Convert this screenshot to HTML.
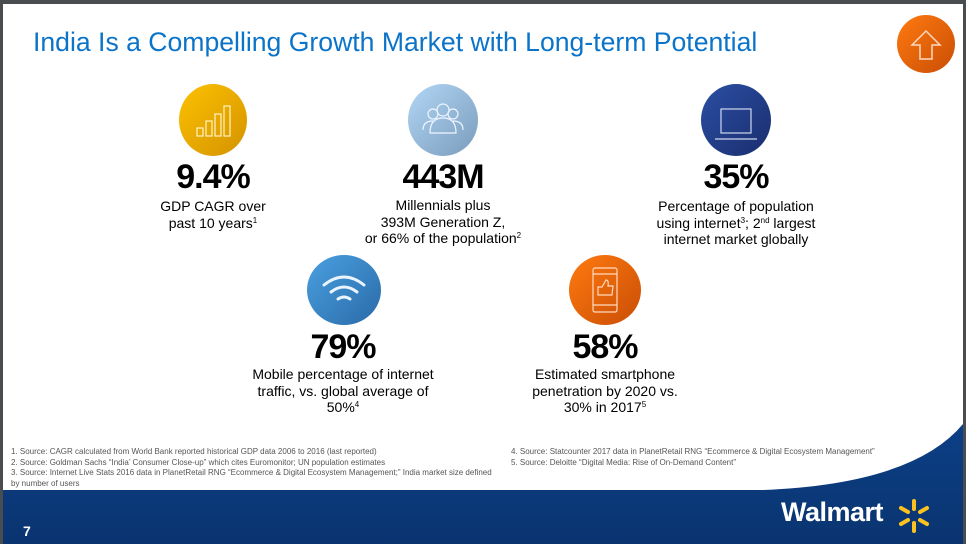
<!DOCTYPE html>
<html><head><meta charset="utf-8"><style>
*{margin:0;padding:0;box-sizing:border-box}
body{width:966px;height:544px;overflow:hidden;background:#4a4d50;font-family:"Liberation Sans",Arial,sans-serif;position:relative}
#slide{position:absolute;left:3px;top:4px;width:960px;height:540px;background:#fff;overflow:hidden}
.t{position:absolute;left:30px;top:23px;font-size:26.6px;color:#0b74c9;white-space:nowrap}
.c{position:absolute;border-radius:50%}
.big{position:absolute;font-weight:bold;font-size:34px;text-align:center;width:300px;letter-spacing:-1px;color:#000}
.d{position:absolute;font-size:14px;line-height:16.5px;text-align:center;width:300px;color:#000}
sup{font-size:8px;vertical-align:5px;line-height:0}
.fn{position:absolute;font-size:8px;color:#555;line-height:10.5px;white-space:nowrap}
</style></head><body>
<div id="slide">
<div class="t">India Is a Compelling Growth Market with Long-term Potential</div>
<div class="c" style="left:894px;top:11px;width:58px;height:58px;background:linear-gradient(135deg,#ff7a10,#c94e05)"></div>
<svg style="position:absolute;left:894px;top:11px" width="58" height="58"><path d="M29 16 L43 30 L35 30 L35 44 L23 44 L23 30 L15 30 Z" fill="none" stroke="#ffd9bf" stroke-width="1.5"/></svg>

<div class="c" style="left:176px;top:80px;width:68px;height:72px;background:linear-gradient(135deg,#fcc200,#d49200)"></div>
<svg style="position:absolute;left:176px;top:80px" width="68" height="72"><g fill="none" stroke="#fff3c0" stroke-width="1.2"><rect x="18" y="44" width="6" height="8"/><rect x="27" y="37" width="6" height="15"/><rect x="36" y="30" width="6" height="22"/><rect x="45" y="22" width="6" height="30"/></g></svg>
<div class="big" style="left:60px;top:154px">9.4%</div>
<div class="d" style="left:60px;top:194px">GDP CAGR over<br>past 10 years<sup>1</sup></div>

<div class="c" style="left:405px;top:80px;width:70px;height:72px;background:linear-gradient(135deg,#b2d6f5,#7a9cbc)"></div>
<svg style="position:absolute;left:405px;top:80px" width="70" height="72"><g fill="none" stroke="#eef5ff" stroke-width="1.2"><circle cx="25" cy="30" r="5"/><circle cx="45" cy="30" r="5"/><circle cx="35" cy="26" r="6"/><path d="M15 46 Q15 37 25 37 M55 46 Q55 37 45 37 M22 49 Q22 34 35 34 Q48 34 48 49 Z"/></g></svg>
<div class="big" style="left:290px;top:154px">443M</div>
<div class="d" style="left:290px;top:193px">Millennials plus<br>393M Generation Z,<br>or 66% of the population<sup>2</sup></div>

<div class="c" style="left:698px;top:80px;width:70px;height:72px;background:linear-gradient(135deg,#2b4fa3,#1a2d6e)"></div>
<svg style="position:absolute;left:698px;top:80px" width="70" height="72"><g fill="none" stroke="#cfd8f0" stroke-width="1.2"><rect x="20" y="25" width="30" height="24"/><line x1="14" y1="55" x2="56" y2="55"/></g></svg>
<div class="big" style="left:583px;top:154px">35%</div>
<div class="d" style="left:583px;top:194px">Percentage of population<br>using internet<sup>3</sup>; 2<sup>nd</sup> largest<br>internet market globally</div>

<div class="c" style="left:304px;top:251px;width:74px;height:70px;background:linear-gradient(135deg,#4aa0e0,#2a6aa8)"></div>
<svg style="position:absolute;left:304px;top:251px" width="74" height="70"><g fill="none" stroke="#eaf4ff" stroke-width="3" stroke-linecap="round"><path d="M17 30 Q37 14 57 30"/><path d="M24 37 Q37 27 50 37"/><path d="M31 44 Q37 40 43 44"/></g></svg>
<div class="big" style="left:190px;top:324px">79%</div>
<div class="d" style="left:190px;top:362px">Mobile percentage of internet<br>traffic, vs. global average of<br>50%<sup>4</sup></div>

<div class="c" style="left:566px;top:251px;width:72px;height:70px;background:linear-gradient(135deg,#ff7a10,#c94e05)"></div>
<svg style="position:absolute;left:566px;top:251px" width="72" height="70"><g fill="none" stroke="#ffd9bf" stroke-width="1.2"><rect x="24" y="13" width="24" height="44" rx="2"/><line x1="24" y1="19" x2="48" y2="19"/><line x1="24" y1="50" x2="48" y2="50"/><path d="M29 40 L29 32 L33 32 L37 25 Q40 25 39 31 L44 31 L43 40 Z"/></g></svg>
<div class="big" style="left:452px;top:324px">58%</div>
<div class="d" style="left:452px;top:362px">Estimated smartphone<br>penetration by 2020 vs.<br>30% in 2017<sup>5</sup></div>

<div class="fn" style="left:8px;top:443px">1. Source: CAGR calculated from World Bank reported historical GDP data 2006 to 2016 (last reported)<br>2. Source: Goldman Sachs “India’ Consumer Close-up” which cites Euromonitor; UN population estimates<br>3. Source: Internet Live Stats 2016 data in PlanetRetail RNG “Ecommerce &amp; Digital Ecosystem Management;” India market size defined<br>by number of users</div>
<div class="fn" style="left:508px;top:443px">4. Source: Statcounter 2017 data in PlanetRetail RNG “Ecommerce &amp; Digital Ecosystem Management”<br>5. Source: Deloitte “Digital Media: Rise of On-Demand Content”</div>

<svg style="position:absolute;left:0;top:0" width="960" height="540">
<defs><linearGradient id="g" x1="0" y1="0" x2="0" y2="1"><stop offset="0" stop-color="#0c3f86"/><stop offset="1" stop-color="#0a3470"/></linearGradient></defs>
<path d="M0 486 L760 486 Q910 480 960 420 L960 540 L0 540 Z" fill="url(#g)"/>
</svg>
<div style="position:absolute;left:20px;top:519px;color:#fff;font-weight:bold;font-size:14px">7</div>
<div style="position:absolute;left:778px;top:493px;color:#fff;font-weight:bold;font-size:27px;letter-spacing:-0.5px">Walmart</div>
<svg style="position:absolute;left:893px;top:494px" width="36" height="36"><g stroke="#fcc220" stroke-width="4" stroke-linecap="round"><line x1="18" y1="3" x2="18" y2="11"/><line x1="18" y1="25" x2="18" y2="33"/><line x1="5" y1="10" x2="12" y2="14"/><line x1="31" y1="10" x2="24" y2="14"/><line x1="5" y1="26" x2="12" y2="22"/><line x1="31" y1="26" x2="24" y2="22"/></g></svg>
</div>
</body></html>
